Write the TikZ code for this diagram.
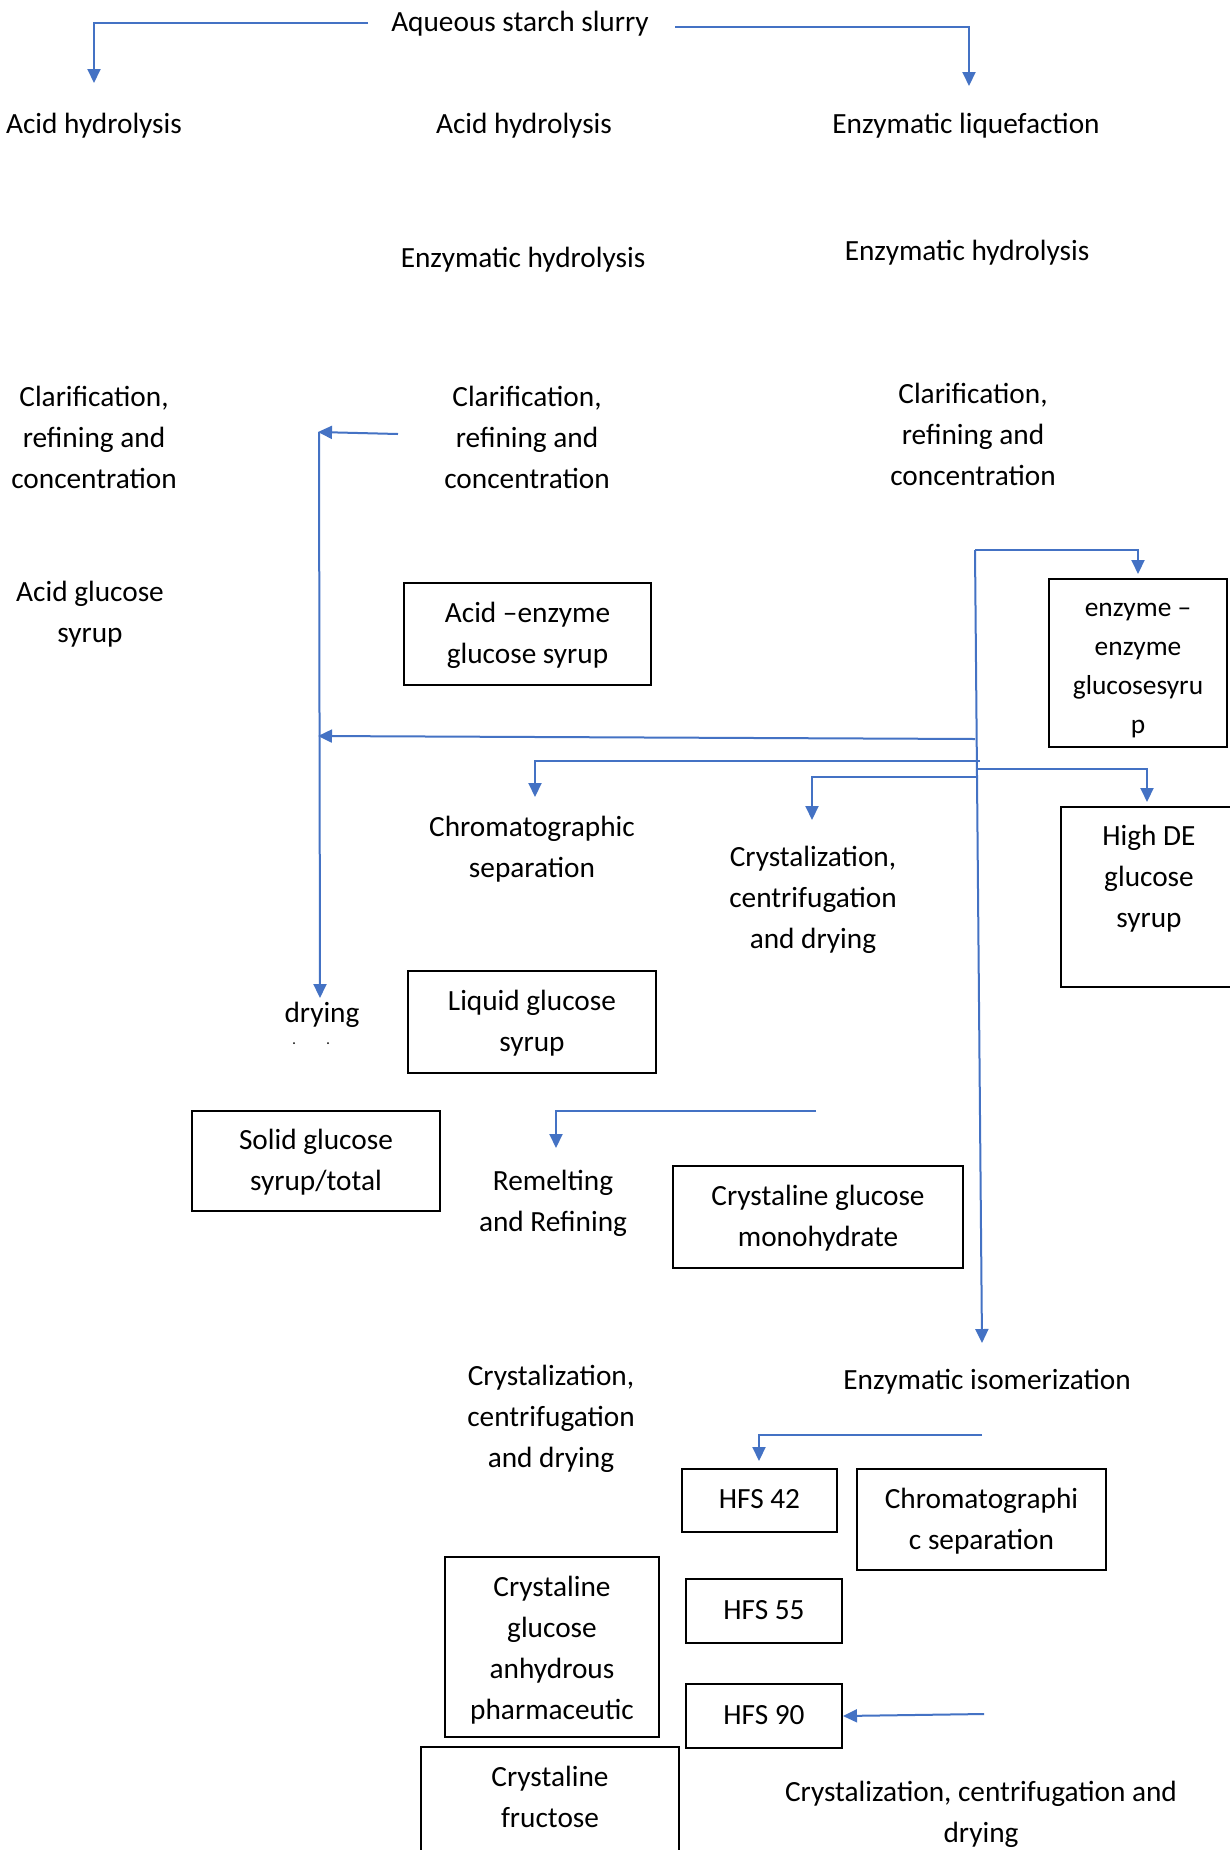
\documentclass[tikz,border=0pt]{standalone}
\usepackage{fontspec}
\setmainfont{Carlito}
\usetikzlibrary{arrows.meta}
\definecolor{flowblue}{RGB}{68,114,196}
\begin{document}
\begin{tikzpicture}[x=1pt,y=-1pt,
  every node/.style={font=\fontsize{29.3}{41}\selectfont, inner sep=0pt, align=center,
    execute at begin node=\strut, execute at end node=\strut},
  small/.style={font=\fontsize{27.4}{39}\selectfont},
  mtext/.style={yshift=-5.3pt},
  stext/.style={yshift=-1.5pt},
  flow/.style={draw=flowblue, line width=2pt, -{Triangle[length=14pt,width=13pt]}},
  box/.style={draw=black, line width=2pt},
]
\useasboundingbox[fill=white] (0,0) rectangle (1230,1850);

% ---------- free text nodes ----------
\node[stext] (aq) at (520,22) {Aqueous starch slurry};
\node[stext] (acidL) at (94,124) {Acid hydrolysis};
\node[stext] (acidM) at (524,124) {Acid hydrolysis};
\node[stext] (enzLiq) at (966,124) {Enzymatic liquefaction};
\node[stext] (enzHydM) at (523,258) {Enzymatic hydrolysis};
\node[stext] (enzHydR) at (967,251) {Enzymatic hydrolysis};
\node[mtext] (clarL) at (94,438) {Clarification,\\refining and\\concentration};
\node[mtext] (clarM) at (527,438) {Clarification,\\refining and\\concentration};
\node[mtext] (clarR) at (973,435) {Clarification,\\refining and\\concentration};
\node[mtext] (acidGS) at (90,613) {Acid glucose\\syrup};
\node[mtext] (chrom) at (532,848) {Chromatographic\\separation};
\node[mtext] (crysA) at (813,898) {Crystalization,\\centrifugation\\and drying};
\node[stext] (drying) at (322,1013) {drying};
\node[mtext] (remelt) at (553,1202) {Remelting\\and Refining};
\node[stext] (enzIso) at (987,1380) {Enzymatic isomerization};
\node[mtext] (crysB) at (551,1417) {Crystalization,\\centrifugation\\and drying};
\node[mtext] (crysC) at (981,1813) {Crystalization, centrifugation and\\drying};

% ---------- boxes ----------
\node[box, minimum width=247pt, minimum height=102pt] (aebox) at (527.5,634) {};
\node[mtext] (aetext) at (aebox.center) {Acid –enzyme\\glucose syrup};

\node[box, minimum width=178pt, minimum height=168pt] (eebox) at (1138,663) {};
\node[small, yshift=-11.5pt] (eetext) at (eebox.center) {enzyme –\\enzyme\\glucosesyru\\p};

\node[box, minimum width=172pt, minimum height=180pt] (hdebox) at (1147,897) {};
\node[yshift=-2.4pt] (hde) at (1149,880) {High DE\\glucose\\syrup};

\node[box, minimum width=248pt, minimum height=102pt] (lgbox) at (532,1022) {};
\node[mtext] (lgtext) at (lgbox.center) {Liquid glucose\\syrup};

\node[box, minimum width=248pt, minimum height=100pt] (sgbox) at (316,1161) {};
\node[mtext] (sgtext) at (sgbox.center) {Solid glucose\\syrup/total};

\node[box, minimum width=290pt, minimum height=102pt] (cgmbox) at (818,1217) {};
\node[mtext] (cgmtext) at (cgmbox.center) {Crystaline glucose\\monohydrate};

\node[box, minimum width=155pt, minimum height=63pt] (hfs42) at (759.5,1500.5) {HFS 42};

\node[box, minimum width=249pt, minimum height=101pt] (chbox) at (981.5,1519.5) {};
\node[mtext] (chtext) at (chbox.center) {Chromatographi\\c separation};

\node[box, minimum width=214pt, minimum height=180pt] (cgabox) at (552,1647) {};
\node[yshift=-6.5pt] (cgatext) at (cgabox.center) {Crystaline\\glucose\\anhydrous\\pharmaceutic};

\node[box, minimum width=156pt, minimum height=64pt] (hfs55) at (764,1611) {HFS 55};
\node[box, minimum width=156pt, minimum height=64pt] (hfs90) at (764,1716) {HFS 90};

\node[box, minimum width=258pt, minimum height=105pt] (cfbox) at (550,1799.5) {};
\node[mtext] (cftext) at (550,1797.5) {Crystaline\\fructose};

% ---------- connector points ----------
\coordinate (p1s) at (368,23);  \coordinate (p1c) at (94,23);   \coordinate (p1e) at (94,83);
\coordinate (p2s) at (675,27);  \coordinate (p2c) at (969,27);  \coordinate (p2e) at (969,86);
\coordinate (p3s) at (398,434); \coordinate (p3e) at (318,432);
\coordinate (p4s) at (319,432); \coordinate (p4e) at (320,998);
\coordinate (p5s) at (975,550); \coordinate (p5e) at (982,1343);
\coordinate (p6c) at (1138,550); \coordinate (p6e) at (1138,574);
\coordinate (p7s) at (975,739); \coordinate (p7e) at (318,736);
\coordinate (p8s) at (980,761); \coordinate (p8c) at (535,761); \coordinate (p8e) at (535,797);
\coordinate (p9s) at (976,769); \coordinate (p9c) at (1147,769); \coordinate (p9e) at (1147,802);
\coordinate (p10s) at (976,777); \coordinate (p10c) at (812,777); \coordinate (p10e) at (812,820);
\coordinate (p11s) at (816,1111); \coordinate (p11c) at (556,1111); \coordinate (p11e) at (556,1148);
\coordinate (p12s) at (982,1435); \coordinate (p12c) at (759,1435); \coordinate (p12e) at (759,1461);
\coordinate (p13s) at (984,1714);

% ---------- connectors ----------
\draw[flow] (p1s) -- (p1c) -- (p1e);
\draw[flow] (p2s) -- (p2c) -- (p2e);
\draw[flow] (p3s) -- (p3e);
\draw[flow] (p4s) -- (p4e);
\draw[flow] (p5s) -- (p5e);
\draw[flow] (p5s) -- (p6c) -- (p6e);
\draw[flow] (p7s) -- (p7e);
\draw[flow] (p8s) -- (p8c) -- (p8e);
\draw[flow] (p9s) -- (p9c) -- (p9e);
\draw[flow] (p10s) -- (p10c) -- (p10e);
\draw[flow] (p11s) -- (p11c) -- (p11e);
\draw[flow] (p12s) -- (p12c) -- (p12e);
\draw[flow] (p13s) -- (hfs90.east);

% tiny specks below "drying"
\fill (294,1043) circle (1pt);
\fill (328,1043) circle (1pt);
\end{tikzpicture}
\end{document}
